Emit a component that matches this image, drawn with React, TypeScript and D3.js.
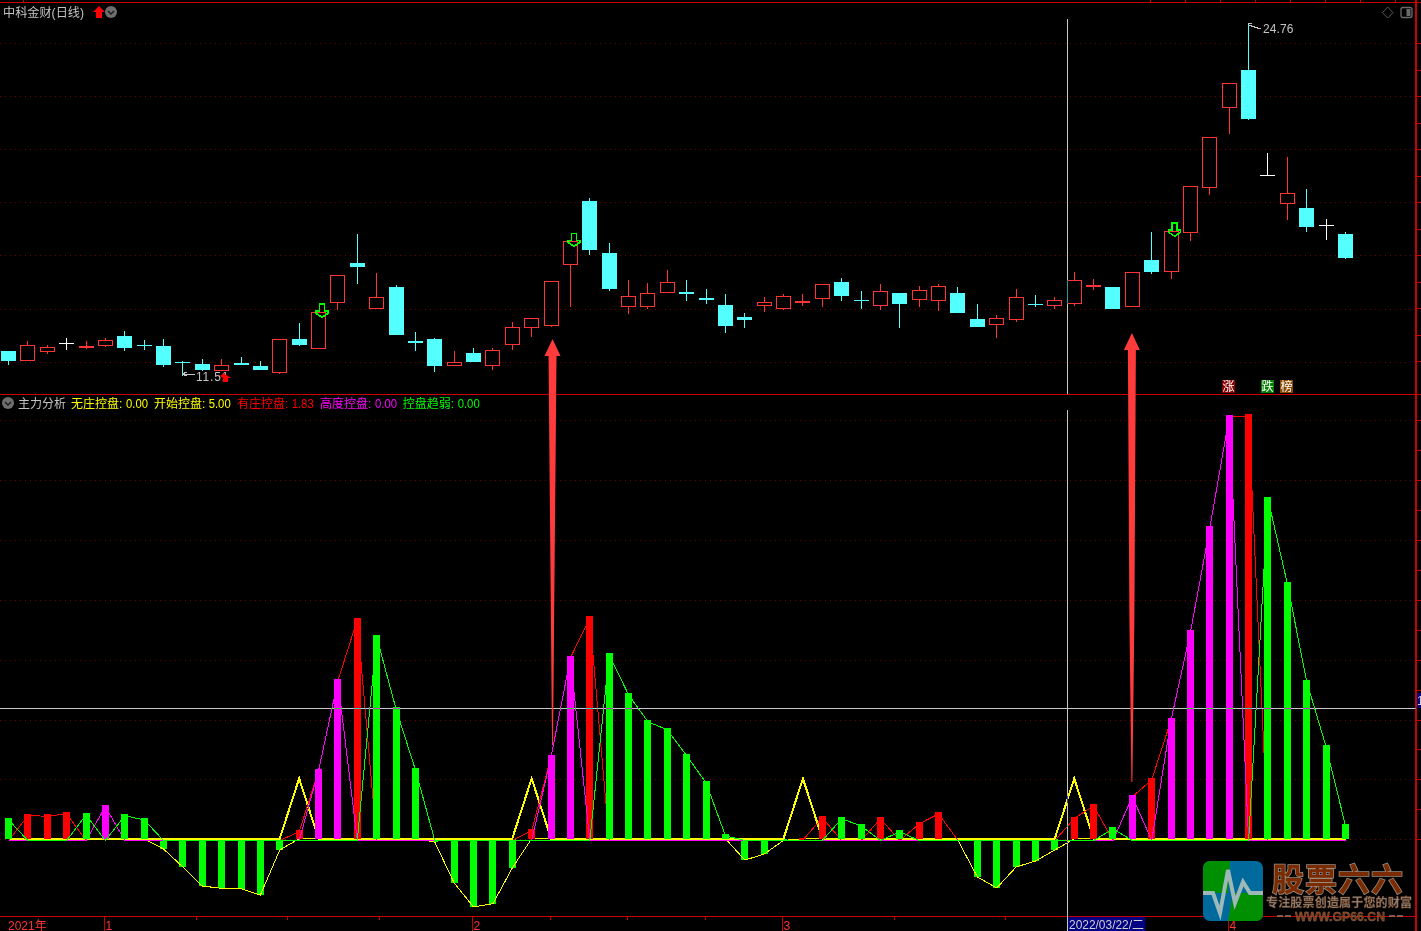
import React from "react";
import * as d3 from "d3";

// ---------- price candles (one entry per trading day) ----------
const opens = [12.45,12.09,12.43,12.72,12.57,12.65,13.02,12.67,12.64,12.00,11.96,11.71,12.00,11.89,11.63,12.90,12.57,14.27,15.76,14.04,14.86,12.83,12.90,11.90,12.38,11.90,12.69,13.33,13.40,15.70,18.10,16.14,14.12,14.12,14.65,14.67,14.45,14.18,13.73,14.16,14.04,14.26,14.42,15.05,14.36,14.19,14.63,14.42,14.38,14.63,13.66,13.44,13.63,14.21,14.19,14.23,14.86,14.86,14.12,15.88,15.47,16.92,18.60,21.61,23.03,19.06,18.00,17.83,17.19,16.87];
const closes = [12.08,12.64,12.59,12.72,12.64,12.85,12.56,12.66,11.92,11.99,11.74,11.91,11.92,11.74,12.89,12.68,13.91,15.30,15.61,14.47,13.05,12.75,11.89,12.03,12.04,12.48,13.34,13.68,15.07,16.58,16.25,14.78,14.51,14.62,15.04,14.60,14.37,13.39,13.62,14.28,14.51,14.33,14.96,14.52,14.35,14.70,14.22,14.74,14.89,13.88,13.36,13.68,14.47,14.20,14.36,15.11,14.94,14.03,15.41,15.42,16.96,18.65,20.50,22.53,21.18,19.06,18.39,17.12,17.19,15.95];
const highs = [12.45,12.83,12.68,12.94,12.83,12.95,13.20,12.86,12.90,12.07,12.15,12.15,12.23,12.07,12.89,13.51,13.91,15.30,16.86,15.39,14.93,13.17,12.94,12.45,12.56,12.56,13.54,13.68,15.07,16.58,18.21,16.52,15.12,15.01,15.50,15.12,14.79,14.60,13.88,14.49,14.60,14.60,14.96,15.20,14.71,14.97,14.63,14.90,14.97,14.86,14.22,13.81,14.79,14.56,14.49,15.42,15.16,14.86,15.41,16.93,16.96,18.65,20.50,22.53,24.76,19.90,19.75,18.55,17.42,16.93];
const lows = [11.92,12.07,12.34,12.50,12.54,12.61,12.45,12.50,11.85,11.51,11.71,11.71,11.92,11.74,11.60,12.64,12.57,14.00,14.97,14.04,13.05,12.45,11.66,11.90,12.04,11.74,12.49,12.98,13.35,14.11,16.06,14.71,13.84,14.03,14.65,14.33,14.22,13.13,13.32,13.92,14.00,14.15,14.11,14.33,14.03,14.00,13.32,14.11,13.96,13.88,13.36,12.94,13.54,14.11,14.03,14.15,14.75,14.03,14.12,15.35,15.16,16.59,18.32,20.62,21.15,19.06,17.38,16.93,16.63,15.91];

// ---------- 主力分析 indicator series ----------
const wuZhuang = [0,0,0,0,0,0,0,0,-0.86,-2.36,-3.94,-4.14,-4.17,-4.69,-0.94,0,0,0,0,0,0,0,-0.28,-3.69,-5.69,-5.42,-2.44,0,0,0,0,0,0,0,0,0,0,0,-1.78,-1.28,-0.14,0,0,0,0,0,0,0,0,-0.14,-3.19,-4.11,-2.36,-1.86,-0.94,0,0,0,0,0,0,0,0,0,0,0,0,0,0,0];
const kaiShi = [0,0,0,0,0,0,0,0,0,0,0,0,0,0,0,5,0,0,0,0,0,0,0,0,0,0,0,5,0,0,0,0,0,0,0,0,0,0,0,0,0,5,0,0,0,0,0,0,0,0,0,0,0,0,0,5,0,0,0,0,0,0,0,0,0,0,0,0,0,0];
const youZhuang = [0,2.06,2.03,2.22,0,2.81,0,0,0,0,0,0,0,0,0,0.72,5.81,13.31,18.39,0,0,0,0,0,0,0,0,0.81,6.97,15.22,18.56,0,0,0,0,0,0,0,0,0,0,0.05,1.89,0,0,1.81,0,1.39,2.22,0,0,0,0,0,0,1.83,2.89,0,3.64,5.06,10.06,17.39,26.06,35.31,35.39,0,0,0,0,0];
const gaoDu = [0,0,0,0,0,2.81,0,0,0,0,0,0,0,0,0,0,5.81,13.31,0,0,0,0,0,0,0,0,0,0,6.97,15.22,0,0,0,0,0,0,0,0,0,0,0,0,0,0,0,0,0,0,0,0,0,0,0,0,0,0,0,0,3.64,0,10.06,17.39,26.06,35.31,0,0,0,0,0,0];
const quRuo = [1.72,0,0,0,2.14,0,2.06,1.72,0,0,0,0,0,0,0,0,0,0,0,16.97,10.95,5.89,0,0,0,0,0,0,0,0,0,15.47,12.14,9.89,9.22,7.06,4.81,0.39,0,0,0,0,0,1.81,1.22,0,0.72,0,0,0,0,0,0,0,0,0,0,0.97,0,0,0,0,0,0,0,28.47,21.39,13.22,7.81,1.22];

const legendNames = ["无庄控盘","开始控盘","有庄控盘","高度控盘","控盘趋弱"];
const legendValues = ["0.00","5.00","1.83","0.00","0.00"];
const signalDays = [16,29,60];
const bigArrowDays = [28.05,57.95];
const rankBadges = [{ day: 63, label: "涨" },{ day: 65, label: "跌" },{ day: 66, label: "榜" }];
const monthTickDays = [4.96,23.96,39.93,62.95];
const monthLabels = ["1","2","3","4"];
const minorTickDays = [9.71,14.42,19.17,27.95,31.92,35.95,45.71,51.43];

const W = 1421, H = 931;
const FONT = '"Liberation Sans","Noto Sans CJK SC",sans-serif';
const RED = "#ff3434", BORDER = "#c80000", CYAN = "#54ffff", GRID = "#6e0000", GREY = "#c4c4c4";
const BASE = 838.7;

const x = d3.scaleLinear().domain([0, 69]).range([8.5, 1345.5]);
const yP = d3.scaleLinear().domain([11.51, 24.76]).range([376, 24]);
const yI = d3.scaleLinear().domain([0, 35]).range([BASE, BASE - 420]);
const px = (v: number) => Math.floor(v) + 0.5;

const lineOf = (vals: number[], dy = 0) =>
  d3.line<number>().x((_, i) => x(i)).y((v) => yI(v) + dy)(vals) as string;

function Bars({ vals, color }: { vals: number[]; color: string }) {
  return (
    <g fill={color} shapeRendering="crispEdges">
      {vals.map((v, i) =>
        v === 0 ? null : (
          <rect key={i} x={Math.floor(x(i)) - 3} width={7}
            y={Math.min(yI(v), BASE)} height={Math.max(Math.abs(yI(v) - BASE), 1)} />
        )
      )}
    </g>
  );
}

function Candle({ i }: { i: number }) {
  const o = opens[i], c = closes[i], h = highs[i], l = lows[i];
  const cx = px(x(i));
  const top = yP(Math.max(o, c)), bot = yP(Math.min(o, c));
  const col = c > o ? RED : c === o ? "#ffffff" : CYAN;
  const wick = (
    <>
      <line x1={cx} x2={cx} y1={yP(h)} y2={top} stroke={col} />
      <line x1={cx} x2={cx} y1={bot} y2={yP(l)} stroke={col} />
    </>
  );
  if (c > o) {
    const bodyH = Math.round(bot - top);
    if (bodyH <= 2) {
      return (
        <g shapeRendering="crispEdges">
          {wick}
          <rect x={cx - 7.5} width={15} y={Math.round(top)} height={2} fill={col} />
        </g>
      );
    }
    return (
      <g shapeRendering="crispEdges">
        {wick}
        <rect x={cx - 7} width={14} y={px(top)} height={bodyH} fill="none" stroke={col} />
      </g>
    );
  }
  return (
    <g shapeRendering="crispEdges">
      {wick}
      {bot - top < 1 ? (
        <line x1={cx - 7.5} x2={cx + 7.5} y1={px(top)} y2={px(top)} stroke={col} />
      ) : (
        <rect x={cx - 7.5} width={15} y={Math.round(top)} height={Math.round(bot - top)} fill={col} />
      )}
    </g>
  );
}

function SignalArrow({ day }: { day: number }) {
  const cx = x(day) + 3.5;
  const tip = yP(closes[day]) + 5;
  const pts = [[cx - 2.5, tip - 13],[cx + 2.5, tip - 13],[cx + 2.5, tip - 6],[cx + 6, tip - 6],[cx + 6, tip - 4],[cx, tip],[cx - 6, tip - 4],[cx - 6, tip - 6],[cx - 2.5, tip - 6]];
  return <polygon points={pts.map((p) => p.join(",")).join(" ")} fill="none" stroke="#00ff00" strokeWidth={1.6} shapeRendering="crispEdges" />;
}

function BigArrow({ day, top, tail, mid }: { day: number; top: number; tail: number; mid: number }) {
  const cx = x(day) + 0.5;
  const my = top + 17 + 0.62 * (tail - top - 17);
  const pts = [[cx, top],[cx + 8, top + 17],[cx + 4, top + 17],[cx + mid, my],[cx + 0.5, tail],[cx - 0.5, tail],[cx - mid, my],[cx - 4, top + 17],[cx - 8, top + 17]];
  return <polygon points={pts.map((p) => p.join(",")).join(" ")} fill="#ff3b3b" />;
}

function CircleBtn({ cx, cy }: { cx: number; cy: number }) {
  return (
    <g>
      <circle cx={cx} cy={cy} r={6} fill="#6e6e6e" />
      <path d={`M${cx - 3},${cy - 1} L${cx},${cy + 2} L${cx + 3},${cy - 1}`} fill="none" stroke="#1a1a1a" strokeWidth={1.4} />
    </g>
  );
}

export default function App() {
  const legendX = [71,154,237,320,402.7];
  const legendNumX = [126,208.7,291.7,375,457.7];
  const legendCol = ["#ffff00","#ffff00","#ff0000","#ff00ff","#00ff00"];
  const wmFont = '"Noto Sans CJK SC"';
  return (
    <>
      <style>{`html,body{margin:0;padding:0;background:#000;overflow:hidden}`}</style>
      <svg width={W} height={H} viewBox={`0 0 ${W} ${H}`} style={{ display: "block", position: "fixed", left: 0, top: 0, isolation: "isolate" }} fontFamily={FONT} fontSize={12}>
        <rect width={W} height={H} fill="#000" />

        {/* dotted grids */}
        <g stroke={GRID} strokeDasharray="1 4" shapeRendering="crispEdges">
          {d3.range(7).map((k) => (
            <line key={k} x1={0} x2={1416} y1={43.5 + Math.round(53.1 * k)} y2={43.5 + Math.round(53.1 * k)} />
          ))}
          {d3.range(8).map((k) => (
            <line key={k} x1={0} x2={1416} y1={420.5 + Math.round(59.9 * k)} y2={420.5 + Math.round(59.9 * k)} />
          ))}
        </g>

        {/* frame */}
        <g stroke={BORDER} shapeRendering="crispEdges">
          <line x1={0} x2={1421} y1={2.5} y2={2.5} />
          <line x1={0} x2={1421} y1={394.5} y2={394.5} />
          <line x1={0} x2={1416} y1={916.5} y2={916.5} />
          <line x1={1416} x2={1416} y1={0} y2={H} strokeWidth={2} />
          {d3.range(13).map((k) => (
            <line key={k} x1={1416} x2={1421} y1={43.5 + Math.round(26.5 * k)} y2={43.5 + Math.round(26.5 * k)} />
          ))}
          {d3.range(15).map((k) => (
            <line key={k} x1={1416} x2={1421} y1={420.5 + Math.round(29.95 * k)} y2={420.5 + Math.round(29.95 * k)} />
          ))}
          <line x1={23.5} x2={23.5} y1={0} y2={2} />
          {d3.range(8).map((k) => (
            <line key={k} x1={1150.5 + 35 * k} x2={1150.5 + 35 * k} y1={0} y2={2} />
          ))}
          {monthTickDays.map((d) => (
            <line key={d} x1={px(x(d))} x2={px(x(d))} y1={916} y2={931} />
          ))}
          {minorTickDays.map((d) => (
            <line key={d} x1={px(x(d))} x2={px(x(d))} y1={916} y2={920} />
          ))}
        </g>

        {/* candles */}
        {opens.map((_, i) => <Candle key={i} i={i} />)}
        {signalDays.map((d) => <SignalArrow key={d} day={d} />)}

        {/* indicator: each layer in the drawing order of the reference */}
        <Bars vals={wuZhuang} color="#00ff00" />
        <path d={lineOf(wuZhuang)} fill="none" stroke="#ffff00" shapeRendering="crispEdges" />
        <path d={lineOf(kaiShi, -0.2)} fill="none" stroke="#ffff00" strokeWidth={2} shapeRendering="crispEdges" />
        <path d={lineOf(youZhuang, 1.8)} fill="none" stroke="#ff0000" shapeRendering="crispEdges" />
        <Bars vals={youZhuang} color="#ff0000" />
        <path d={lineOf(gaoDu, 1.8)} fill="none" stroke="#ff00ff" shapeRendering="crispEdges" />
        <Bars vals={gaoDu} color="#ff00ff" />
        <path d={lineOf(quRuo, 1.8)} fill="none" stroke="#00ff00" shapeRendering="crispEdges" />
        <Bars vals={quRuo} color="#00ff00" />

        {/* price markers */}
        <g stroke={GREY} fill="none" shapeRendering="crispEdges">
          <path d={`M${px(x(9))},${yP(11.51) - 2} L${px(x(9)) + 12},${yP(11.51) - 2} M${px(x(9))},${yP(11.51) - 2} l4,-2 M${px(x(9))},${yP(11.51) - 2} l4,2`} />
          <path d={`M${px(x(64))},${yP(24.76)} l3,-1 M${px(x(64))},${yP(24.76) + 1} l12,4`} />
        </g>
        <text x={196} y={381} fill={GREY} letterSpacing={0.8}>11.51</text>
        <text x={1263} y={33} fill={GREY} letterSpacing={0.1}>24.76</text>
        <polygon points="220,376 224,373 226,375 228,376 231,378 228,378 228,382 223,382 223,378" fill="#ff0000" />

        {/* rank badges */}
        {rankBadges.map((b, i) => (
          <g key={b.label}>
            <rect x={Math.round(x(b.day)) - 7} y={380} width={13} height={13} fill={["#8b0000","#008000","#8b4a00"][i]} />
            <text x={Math.round(x(b.day)) - 0.5} y={391} textAnchor="middle" fill="#fff">{b.label}</text>
          </g>
        ))}

        {/* titles */}
        <text x={3} y={17} fill={GREY} textLength={81} lengthAdjust="spacingAndGlyphs">中科金财(日线)</text>
        <polygon points="99,6 105,12 102,12 102,18 96,18 96,12 93,12" fill="#ff0000" />
        <CircleBtn cx={111} cy={12} />
        <CircleBtn cx={8} cy={403} />
        <text x={18} y={408} fill={GREY}>主力分析</text>
        {legendNames.map((n, i) => (
          <g key={n} fill={legendCol[i]}>
            <text x={legendX[i]} y={408}>{n}:</text>
            <text x={legendNumX[i]} y={408} textLength={22} lengthAdjust="spacingAndGlyphs">{legendValues[i]}</text>
          </g>
        ))}

        {/* window icons */}
        <polygon points="1387.7,7 1393,12.7 1387.7,18 1382.4,12.7" fill="none" stroke="#555" />
        <rect x={1401} y={7.5} width={11} height={10} rx={2} fill="none" stroke="#6a6a6a" strokeWidth={1.3} />
        <rect x={1406.5} y={9} width={4} height={7} fill="#6a6a6a" />

        {/* bottom axis */}
        <text x={8} y={929.5} fill={RED}>2021年</text>
        {monthLabels.map((m, i) => (
          <text key={m} x={px(x(monthTickDays[i])) + 1} y={929.5} fill={RED}>{m}</text>
        ))}

        {/* crosshair inverts whatever lies beneath */}
        <g stroke="#c8c8c8" style={{ mixBlendMode: "difference" }} shapeRendering="crispEdges">
          <line x1={1067.5} x2={1067.5} y1={19} y2={394} />
          <line x1={1067.5} x2={1067.5} y1={410} y2={916} />
          <line x1={0} x2={1416} y1={708.5} y2={708.5} />
        </g>
        <rect x={1067.5} y={917} width={78} height={14} fill="#000080" />
        <line x1={1067.5} x2={1067.5} y1={916} y2={931} stroke="#c8c8c8" />
        <text x={1069} y={929} fill="#d0d0d0" textLength={75} lengthAdjust="spacingAndGlyphs">2022/03/22/二</text>
        <rect x={1417} y={693} width={4} height={15} fill="#000080" />
        <text x={1417} y={705} fill="#d0d0d0">1</text>

        {/* hand-drawn arrows */}
        <BigArrow day={bigArrowDays[0]} top={339} tail={745} mid={1.8} />
        <BigArrow day={bigArrowDays[1]} top={333} tail={782} mid={2.5} />

        {/* watermark */}
        <g>
          <clipPath id="logo"><rect x={1203} y={861} width={60} height={60} rx={7} /></clipPath>
          <g clipPath="url(#logo)">
            <rect x={1203} y={861} width={60} height={60} fill="#006a9c" />
            <polygon points="1203,861 1230,861 1228,893 1203,893" fill="#008f00" />
            <polygon points="1233,893 1263,893 1263,921 1228,921" fill="#008f00" />
            <polyline points="1203,893 1213,893 1220,913 1228,870 1235,903 1243,882 1250,893 1263,893" fill="none" stroke="#9db8b8" strokeWidth={4} />
          </g>
          <g fontFamily={wmFont} fontWeight={700}>
            <text x={1272} y={891} fontSize={32} fill="#7a2c00" stroke="#9a8a80" strokeWidth={1.6} paintOrder="stroke" textLength={131}>股票六六</text>
            <text x={1266} y={907} fontSize={12} fill="#8a8a8a" stroke="#7a3a10" strokeWidth={0.4} textLength={146}>专注股票创造属于您的财富</text>
          </g>
          <g fontWeight={700} fill="#8a3a10" stroke="#8a7a70" strokeWidth={0.3}>
            <text x={1295} y={921} fontSize={13} textLength={90} lengthAdjust="spacingAndGlyphs">WWW.GP66.CN</text>
          </g>
          <g stroke="#8a7a70" strokeWidth={1.5}>
            <line x1={1277} x2={1283} y1={916} y2={916} />
            <line x1={1285} x2={1291} y1={916} y2={916} />
            <line x1={1389} x2={1395} y1={916} y2={916} />
            <line x1={1397} x2={1403} y1={916} y2={916} />
          </g>
        </g>
      </svg>
    </>
  );
}
